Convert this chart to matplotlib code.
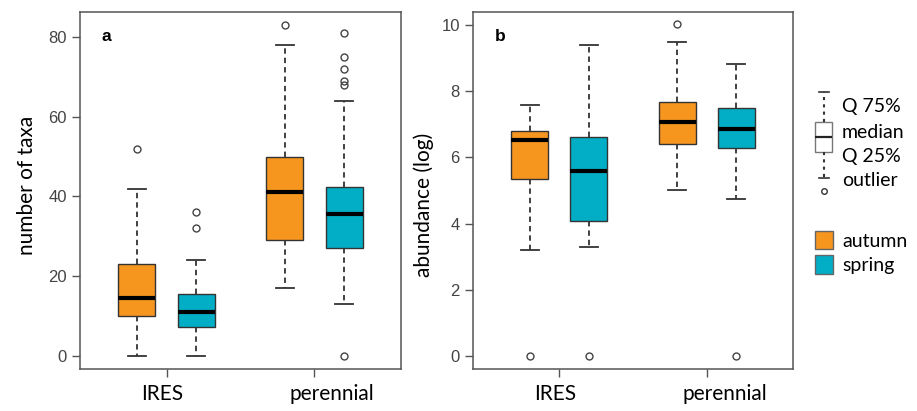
import matplotlib
matplotlib.use('Agg')
import matplotlib.pyplot as plt
import numpy as np
from matplotlib.patches import Patch

# ---------------- data ----------------
groups = ['IRES', 'perennial']
seasons = ['autumn', 'spring']
season_colors = ['#F7961E', '#02AEC6']

# order: IRES-autumn, IRES-spring, perennial-autumn, perennial-spring
taxa_whislo = [0, 0, 17, 13]
taxa_q1 = [10, 7.3, 29, 27]
taxa_med = [14.5, 11, 41, 35.5]
taxa_q3 = [23, 15.5, 50, 42.4]
taxa_whishi = [42, 24, 78, 64]
taxa_fliers = [[52], [32, 36], [83], [0, 68, 69, 72, 75, 81]]

abund_whislo = [3.2, 3.28, 5.02, 4.75]
abund_q1 = [5.35, 4.08, 6.4, 6.29]
abund_med = [6.54, 5.59, 7.07, 6.86]
abund_q3 = [6.81, 6.63, 7.68, 7.5]
abund_whishi = [7.6, 9.4, 9.5, 8.82]
abund_fliers = [[0], [0], [10.05], [0]]

legend_labels = ['Q 75%', 'median', 'Q 25%', 'outlier']
# schematic box for key (arbitrary units 0-100)
key_stats = dict(whislo=18, q1=41.5, med=55.7, q3=69.8, whishi=97, fliers=[5.7])

# ---------------- style ----------------
tick_font = dict(family='Liberation Sans', size=12)
label_font = 'Lato'
label_size = 15
key_size = 14
edge = '#333333'

fig = plt.figure(figsize=(9.17, 4.11), dpi=100)
W, H = 917, 411


def fax(x0, y0, x1, y1):
    return fig.add_axes([x0 / W, 1 - y1 / H, (x1 - x0) / W, (y1 - y0) / H])


ax_a = fax(80, 12, 401, 369)
ax_b = fax(473, 12, 793, 369)

box_kw = dict(patch_artist=True, showfliers=True,
              boxprops=dict(edgecolor=edge, linewidth=1.0),
              medianprops=dict(color='black', linewidth=3, solid_capstyle='butt'),
              whiskerprops=dict(color=edge, linestyle=(0, (3, 2.2)), linewidth=1.3),
              capprops=dict(color=edge, linewidth=1.3),
              flierprops=dict(marker='o', markerfacecolor='none', markeredgecolor='#444444',
                              markersize=5, markeredgewidth=1.0))


def draw_panel(ax, whislo, q1, med, q3, whishi, fliers, ylim, yticks, ylabel, letter, ylab_xy):
    stats = [dict(whislo=whislo[i], q1=q1[i], med=med[i], q3=q3[i], whishi=whishi[i], fliers=fliers[i])
             for i in range(len(whislo))]
    pos = np.repeat(np.arange(1, len(groups) + 1), len(seasons)) + np.tile([-0.2, 0.2], len(groups))
    bp = ax.bxp(stats, positions=pos, widths=0.25, capwidths=0.12, **box_kw)
    for patch, c in zip(bp['boxes'], season_colors * len(groups)):
        patch.set_facecolor(c)
    ax.set_xlim(0.415, 2.585)
    ax.set_ylim(*ylim)
    ax.set_yticks(yticks)
    ax.set_yticklabels([str(t) for t in yticks], fontdict=tick_font, color='#444444')
    ax.set_xticks([1, 2])
    ax.set_xticklabels(['', ''])
    ax.set_xticks(np.arange(1, len(groups) + 1) + np.array([-0.03, 0.12]), minor=True)
    ax.set_xticklabels(groups, minor=True, fontfamily=label_font, fontsize=label_size)
    ax.tick_params(axis='both', which='major', direction='out', length=6, width=1.0, color='#555555')
    ax.tick_params(axis='x', which='minor', length=0, pad=11)
    for s in ax.spines.values():
        s.set_color('#555555')
        s.set_linewidth(1.1)
    ax.set_ylabel(ylabel, fontfamily=label_font, fontsize=label_size)
    ax.yaxis.set_label_coords(*ylab_xy)
    ax.text(0.068, 0.93, letter, transform=ax.transAxes, fontfamily='Liberation Sans',
            fontweight='bold', fontsize=12.5, ha='left', va='center')


draw_panel(ax_a, taxa_whislo, taxa_q1, taxa_med, taxa_q3, taxa_whishi, taxa_fliers,
           (-3.32, 86.32), [0, 20, 40, 60, 80], 'number of taxa', 'a', (-0.134, 0.514))
draw_panel(ax_b, abund_whislo, abund_q1, abund_med, abund_q3, abund_whishi, abund_fliers,
           (-0.40, 10.40), [0, 2, 4, 6, 8, 10], 'abundance (log)', 'b', (-0.122, 0.46))

# ---------------- key ----------------
key_ax = fax(811, 89, 836, 197)
key_ax.set_xlim(0.5, 1.5)
key_ax.set_ylim(0, 100)
key_ax.axis('off')
kb = key_ax.bxp([key_stats], positions=[1], widths=0.68, capwidths=0.4, patch_artist=True,
                boxprops=dict(edgecolor='#777777', facecolor='white', linewidth=1.0),
                medianprops=dict(color='#222222', linewidth=1.6, solid_capstyle='butt'),
                whiskerprops=dict(color='#333333', linestyle=(0, (1.5, 2)), linewidth=1.5),
                capprops=dict(color='#333333', linewidth=1.2),
                flierprops=dict(marker='o', markerfacecolor='none', markeredgecolor='#333333',
                                markersize=4, markeredgewidth=1.0))

for lab, yy in zip(legend_labels, [106.7, 132.5, 156.5, 180.5]):
    fig.text(842 / W, 1 - yy / H, lab, fontfamily=label_font, fontsize=key_size,
             ha='left', va='center')

handles = [Patch(facecolor=c, edgecolor='#666666', linewidth=1.0) for c in season_colors]
fig.legend(handles=handles, labels=seasons, loc='upper left',
           bbox_to_anchor=(815 / W, 1 - 231 / H), frameon=False,
           handlelength=0.95, handleheight=1.05, handletextpad=0.45, labelspacing=0.3,
           borderpad=0, borderaxespad=0,
           prop=dict(family=label_font, size=key_size))

fig.savefig('out.png', dpi=100)
